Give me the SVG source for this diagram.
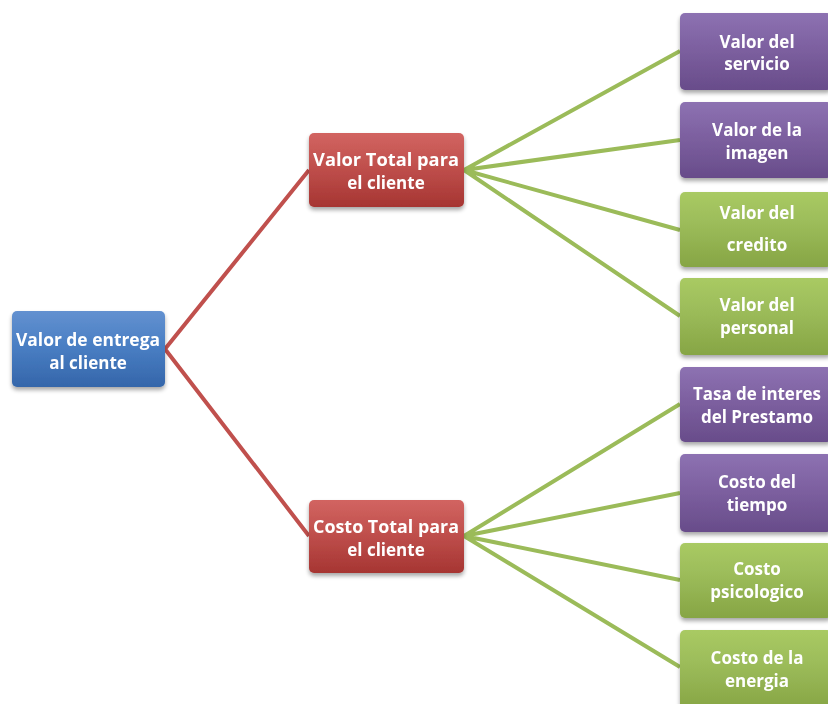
<svg xmlns="http://www.w3.org/2000/svg" width="828" height="704" viewBox="0 0 828 704">
<defs>
<linearGradient id="gBlue" x1="0" y1="0" x2="0" y2="1"><stop offset="0" stop-color="#6391d0"/><stop offset="0.45" stop-color="#4a7fc4"/><stop offset="1" stop-color="#3566aa"/></linearGradient>
<linearGradient id="gRed" x1="0" y1="0" x2="0" y2="1"><stop offset="0" stop-color="#d26461"/><stop offset="0.45" stop-color="#c0504d"/><stop offset="1" stop-color="#a63532"/></linearGradient>
<linearGradient id="gPurple" x1="0" y1="0" x2="0" y2="1"><stop offset="0" stop-color="#8d72b2"/><stop offset="0.45" stop-color="#7d60a0"/><stop offset="1" stop-color="#684c8a"/></linearGradient>
<linearGradient id="gGreen" x1="0" y1="0" x2="0" y2="1"><stop offset="0" stop-color="#a9ca63"/><stop offset="0.45" stop-color="#9bbb59"/><stop offset="1" stop-color="#86a544"/></linearGradient>
<filter id="sh" x="-10%" y="-10%" width="120%" height="130%"><feGaussianBlur in="SourceAlpha" stdDeviation="2"/><feOffset dx="0" dy="3"/><feComponentTransfer><feFuncA type="linear" slope="0.35"/></feComponentTransfer><feMerge><feMergeNode/><feMergeNode in="SourceGraphic"/></feMerge></filter>
</defs>
<style>
.t{font-family:"Open Sans","Liberation Sans",sans-serif;font-weight:bold;font-size:17px;fill:#ffffff;text-anchor:middle}
.red{stroke:#c0504d;stroke-width:4;fill:none}
.grn{stroke:#9bbb59;stroke-width:4;fill:none}
.box{filter:url(#sh)}
</style>
<rect width="828" height="704" fill="#ffffff"/>
<g id="connectors">
<path class="red" d="M165 349 L309 170 M165 349 L309 536"/>
<path class="grn" d="M464 170 L680 51 M464 170 L680 140 M464 170 L680 230 M464 170 L680 316"/>
<path class="grn" d="M464 536 L680 404 M464 536 L680 493 M464 536 L680 580 M464 536 L680 667"/>
</g>
<g id="root" class="box"><rect x="12" y="311" width="153" height="76" rx="5" fill="url(#gBlue)"/><text class="t" x="88" y="346" textLength="144" lengthAdjust="spacingAndGlyphs">Valor de entrega</text><text class="t" x="88" y="369">al cliente</text></g>
<g id="valorTotal" class="box"><rect x="309" y="133" width="155" height="74" rx="5" fill="url(#gRed)"/><text class="t" x="386" y="166" textLength="146" lengthAdjust="spacingAndGlyphs">Valor Total para</text><text class="t" x="386" y="189">el cliente</text></g>
<g id="costoTotal" class="box"><rect x="309" y="500" width="155" height="73" rx="5" fill="url(#gRed)"/><text class="t" x="386" y="533" textLength="146" lengthAdjust="spacingAndGlyphs">Costo Total para</text><text class="t" x="386" y="556">el cliente</text></g>
<g id="n1" class="box"><rect x="680" y="13" width="152" height="77" rx="5" fill="url(#gPurple)"/><text class="t" x="757" y="48">Valor del</text><text class="t" x="757" y="70">servicio</text></g>
<g id="n2" class="box"><rect x="680" y="102" width="152" height="76" rx="5" fill="url(#gPurple)"/><text class="t" x="757" y="136">Valor de la</text><text class="t" x="757" y="159">imagen</text></g>
<g id="n3" class="box"><rect x="680" y="192" width="152" height="75" rx="5" fill="url(#gGreen)"/><text class="t" x="757" y="219">Valor del</text><text class="t" x="757" y="251">credito</text></g>
<g id="n4" class="box"><rect x="680" y="278" width="152" height="77" rx="5" fill="url(#gGreen)"/><text class="t" x="757" y="311">Valor del</text><text class="t" x="757" y="334">personal</text></g>
<g id="n5" class="box"><rect x="680" y="367" width="152" height="75" rx="5" fill="url(#gPurple)"/><text class="t" x="757" y="400" textLength="128" lengthAdjust="spacingAndGlyphs">Tasa de interes</text><text class="t" x="757" y="423">del Prestamo</text></g>
<g id="n6" class="box"><rect x="680" y="454" width="152" height="78" rx="5" fill="url(#gPurple)"/><text class="t" x="757" y="488">Costo del</text><text class="t" x="757" y="511">tiempo</text></g>
<g id="n7" class="box"><rect x="680" y="543" width="152" height="75" rx="5" fill="url(#gGreen)"/><text class="t" x="757" y="575">Costo</text><text class="t" x="757" y="598">psicologico</text></g>
<g id="n8" class="box"><rect x="680" y="630" width="152" height="80" rx="5" fill="url(#gGreen)"/><text class="t" x="757" y="664">Costo de la</text><text class="t" x="757" y="687">energia</text></g>
</svg>
